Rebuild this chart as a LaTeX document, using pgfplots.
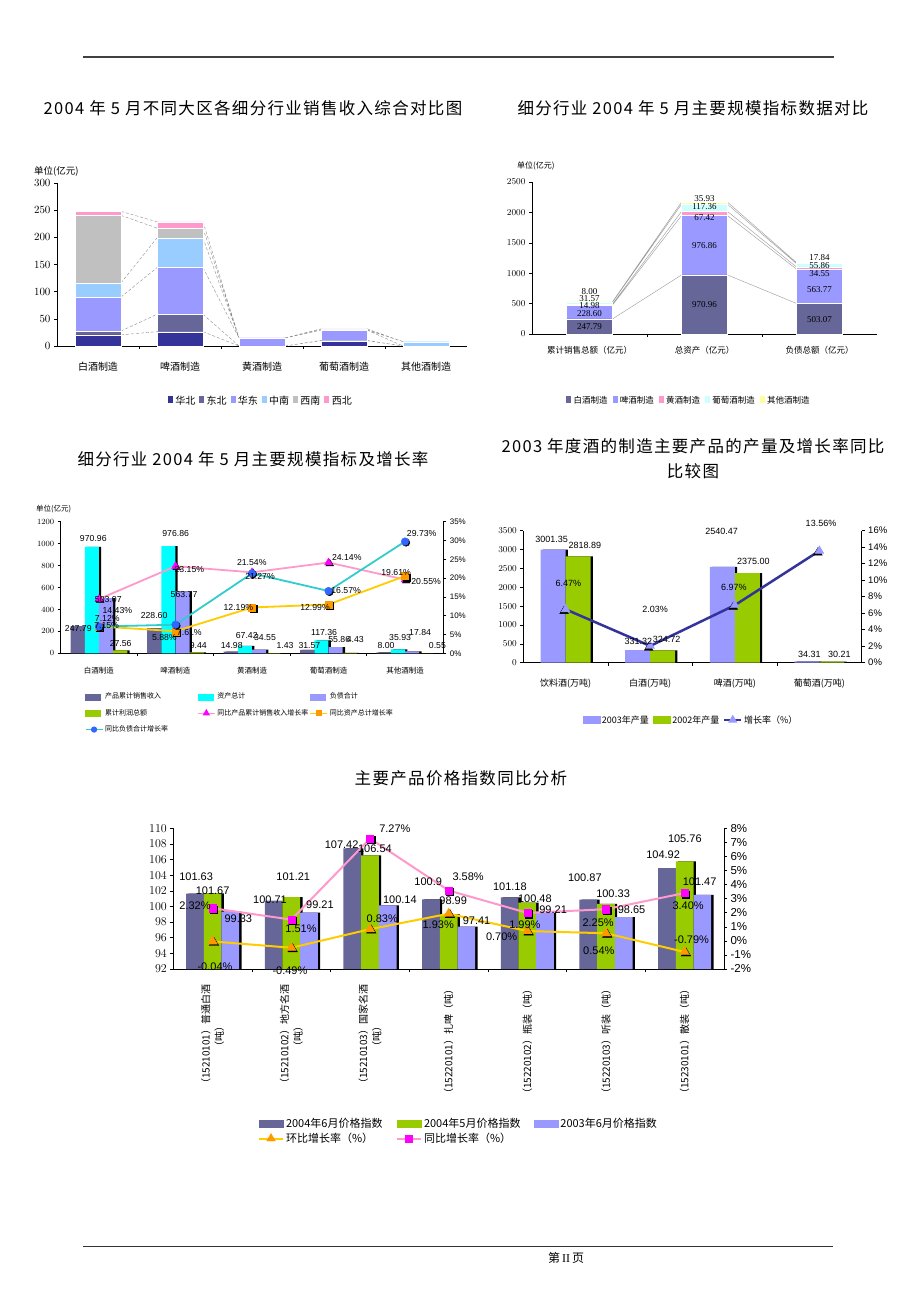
\documentclass[border=0pt]{standalone}
\usepackage{fontspec}
\usepackage{pgfplots}
\pgfplotsset{compat=1.18}
\setmainfont{Liberation Sans}
\newfontfamily\cjk{Noto Sans CJK SC}
\newfontfamily\cjkt[LetterSpace=8]{Noto Sans CJK SC}
\newfontfamily\ser{Liberation Serif}
\definecolor{cnavy}{HTML}{333399}
\definecolor{cslate}{HTML}{666699}
\definecolor{clav}{HTML}{9999FF}
\definecolor{csky}{HTML}{99CCFF}
\definecolor{cgray}{HTML}{C0C0C0}
\definecolor{cpink}{HTML}{FF99CC}
\definecolor{cpale}{HTML}{CCFFFF}
\definecolor{cyel}{HTML}{FFFF99}
\definecolor{ccyan}{HTML}{00FFFF}
\definecolor{cgreen}{HTML}{99CC00}
\definecolor{cmag}{HTML}{FF00FF}
\definecolor{cgold}{HTML}{FFCC00}
\definecolor{corange}{HTML}{FF9900}
\definecolor{cteal}{HTML}{33CCCC}
\definecolor{cblue}{HTML}{3366FF}
\pgfplotsset{
  base/.style={scale only axis, anchor=north west, /pgf/number format/1000 sep={},
    axis line style={black, line width=0.7pt}, tick style={black, line width=0.6pt},
    tick align=outside, major tick length=3pt},
  lab/.style={scale only axis, anchor=north west, hide axis, clip=false},
  sq/.style={legend image code/.code={\fill[##1,draw=none] (0pt,-3.5pt) rectangle (7pt,3.5pt);}},
  txt/.style={draw=none, nodes near coords, point meta=explicit symbolic,
    every node near coord/.append style={anchor=center, inner sep=0pt, font=#1}},
}
\begin{document}
\begin{tikzpicture}
\path[use as bounding box, fill=white] (0,0) rectangle (920pt,-1302pt);
% header / footer
\draw[line width=1.6pt, black!75] (83pt,-57pt) -- (834pt,-57pt);
\draw[line width=0.9pt, black!80] (83pt,-1246.5pt) -- (833pt,-1246.5pt);
\node[font=\cjk\fontsize{12}{12}\selectfont] at (566pt,-1258pt) {第\,{\ser II}\,页};
% titles
\node[font=\cjkt\fontsize{16.5}{18}\selectfont] at (253pt,-108pt) {2004 年 5 月不同大区各细分行业销售收入综合对比图};
\node[font=\cjkt\fontsize{16.5}{18}\selectfont] at (693pt,-108pt) {细分行业 2004 年 5 月主要规模指标数据对比};
\node[font=\cjkt\fontsize{16.5}{18}\selectfont] at (253pt,-459pt) {细分行业 2004 年 5 月主要规模指标及增长率};
\node[font=\cjkt\fontsize{16.5}{18}\selectfont] at (693pt,-446pt) {2003 年度酒的制造主要产品的产量及增长率同比};
\node[font=\cjkt\fontsize{16.5}{18}\selectfont] at (693pt,-471pt) {比较图};
\node[font=\cjkt\fontsize{16.5}{18}\selectfont] at (461pt,-778pt) {主要产品价格指数同比分析};
% unit labels
\node[anchor=west, inner sep=0pt, font=\cjk\fontsize{9.5}{10}\selectfont] at (34pt,-171pt) {单位(亿元)};
\node[anchor=west, inner sep=0pt, font=\cjk\fontsize{8}{9}\selectfont] at (517pt,-166pt) {单位(亿元)};
\node[anchor=west, inner sep=0pt, font=\cjk\fontsize{7.5}{8}\selectfont] at (36pt,-509pt) {单位(亿元)};

%================ CHART 1 =================
\begin{axis}[lab, clip=true, at={(57pt,-183pt)}, width=410pt, height=163pt,
  xmin=-0.5, xmax=4.5, ymin=0, ymax=300]
\addplot[black!45, densely dashed, line width=0.4pt, unbounded coords=jump] coordinates {
(0.28,20.5)(0.72,26.4)(0.5,nan)(0.28,27.5)(0.72,58.4)(0.5,nan)(0.28,90)(0.72,144.4)(0.5,nan)
(0.28,116)(0.72,198.9)(0.5,nan)(0.28,240.5)(0.72,217.1)(0.5,nan)(0.28,247.8)(0.72,228.6)(0.5,nan)
(1.28,26.4)(1.72,0)(1.5,nan)(1.28,58.4)(1.72,0)(1.5,nan)(1.28,144.4)(1.72,14.6)(1.5,nan)
(1.28,198.9)(1.72,14.8)(1.5,nan)(1.28,217.1)(1.72,14.8)(1.5,nan)(1.28,228.6)(1.72,14.98)(1.5,nan)
(2.28,0)(2.72,9.8)(2.5,nan)(2.28,0)(2.72,10.3)(2.5,nan)(2.28,14.6)(2.72,29.3)(2.5,nan)
(2.28,14.8)(2.72,29.6)(2.5,nan)(2.28,14.8)(2.72,29.6)(2.5,nan)(2.28,14.98)(2.72,31.57)(2.5,nan)
(3.28,9.8)(3.72,0)(3.5,nan)(3.28,10.3)(3.72,0)(3.5,nan)(3.28,29.3)(3.72,0)(3.5,nan)
(3.28,29.6)(3.72,8)(3.5,nan)(3.28,29.6)(3.72,8)(3.5,nan)(3.28,31.57)(3.72,8)
};
\end{axis}
\begin{axis}[base, sq, at={(57pt,-183pt)}, width=410pt, height=163pt,
  ybar stacked, bar width=0.557,
  xmin=-0.5, xmax=4.5, ymin=0, ymax=300,
  axis x line*=bottom, axis y line*=left,
  ytick={0,50,...,300},
  xtick={0.5,1.5,2.5,3.5}, xticklabels={},
  extra x ticks={0,1,2,3,4},
  extra x tick labels={白酒制造,啤酒制造,黄酒制造,葡萄酒制造,其他酒制造},
  extra x tick style={major tick length=0pt, xticklabel style={yshift=-13pt}},
  xticklabel style={font=\cjk\fontsize{10}{10}\selectfont},
  yticklabel style={font=\ser\fontsize{11}{11}\selectfont},
  legend columns=6,
  legend style={at={(axis description cs:0.496,-0.337)}, anchor=center, draw=none, fill=none,
    font=\cjk\fontsize{10}{10}\selectfont, /tikz/every even column/.append style={column sep=1pt}},
]
\addplot[fill=cnavy, draw=white, line width=0.3pt] coordinates {(0,20.5)(1,26.4)(2,0)(3,9.8)(4,0)};
\addplot[fill=cslate, draw=white, line width=0.3pt] coordinates {(0,7)(1,32)(2,0)(3,0.5)(4,0)};
\addplot[fill=clav, draw=white, line width=0.3pt] coordinates {(0,62.5)(1,86)(2,14.6)(3,19)(4,0)};
\addplot[fill=csky, draw=white, line width=0.3pt] coordinates {(0,26)(1,54.5)(2,0.2)(3,0.3)(4,8)};
\addplot[fill=cgray, draw=white, line width=0.3pt] coordinates {(0,124.5)(1,18.2)(2,0)(3,0)(4,0)};
\addplot[fill=cpink, draw=white, line width=0.3pt] coordinates {(0,7.3)(1,11.5)(2,0.18)(3,1.97)(4,0)};
\legend{华北,东北,华东,中南,西南,西北}
\end{axis}

%================ CHART 2 =================
\begin{axis}[lab, clip=true, at={(532pt,-182pt)}, width=345pt, height=152pt,
  xmin=-0.5, xmax=2.5, ymin=0, ymax=2500]
\addplot[black!40, line width=0.4pt, unbounded coords=jump] coordinates {
(0.2,247.79)(0.8,970.96)(0.5,nan)(0.2,476.39)(0.8,1947.82)(0.5,nan)(0.2,491.37)(0.8,2015.24)(0.5,nan)
(0.2,522.94)(0.8,2132.60)(0.5,nan)(0.2,530.94)(0.8,2168.53)(0.5,nan)
(1.2,970.96)(1.8,503.07)(1.5,nan)(1.2,1947.82)(1.8,1066.84)(1.5,nan)(1.2,2015.24)(1.8,1101.39)(1.5,nan)
(1.2,2132.60)(1.8,1157.25)(1.5,nan)(1.2,2168.53)(1.8,1175.09)
};
\end{axis}
\begin{axis}[base, sq, at={(532pt,-182pt)}, width=345pt, height=152pt,
  ybar stacked, bar width=0.4,
  xmin=-0.5, xmax=2.5, ymin=0, ymax=2500,
  axis x line*=bottom, axis y line*=left,
  ytick={0,500,...,2500},
  xtick={0.5,1.5}, xticklabels={},
  extra x ticks={0,1,2},
  extra x tick labels={累计销售总额（亿元）,总资产（亿元）,负债总额（亿元）},
  extra x tick style={major tick length=0pt, xticklabel style={yshift=-9pt}},
  xticklabel style={font=\cjk\fontsize{8.5}{9}\selectfont},
  yticklabel style={font=\ser\fontsize{9}{9}\selectfont},
  legend columns=5,
  legend style={at={(axis description cs:0.4536,-0.441)}, anchor=center, draw=none, fill=none,
    font=\cjk\fontsize{8.5}{9}\selectfont, /tikz/every even column/.append style={column sep=2pt}},
]
\addplot[fill=cslate, draw=white, line width=0.3pt] coordinates {(0,247.79)(1,970.96)(2,503.07)};
\addplot[fill=clav, draw=white, line width=0.3pt] coordinates {(0,228.60)(1,976.86)(2,563.77)};
\addplot[fill=cpink, draw=white, line width=0.3pt] coordinates {(0,14.98)(1,67.42)(2,34.55)};
\addplot[fill=cpale, draw=white, line width=0.3pt] coordinates {(0,31.57)(1,117.36)(2,55.86)};
\addplot[fill=cyel, draw=white, line width=0.3pt] coordinates {(0,8.00)(1,35.93)(2,17.84)};
\legend{白酒制造,啤酒制造,黄酒制造,葡萄酒制造,其他酒制造}
\end{axis}
\begin{axis}[lab, at={(532pt,-182pt)}, width=345pt, height=152pt,
  xmin=-0.5, xmax=2.5, ymin=0, ymax=2500]
\addplot[txt={\ser\fontsize{9}{9}\selectfont}] coordinates {
(0,125)[247.79] (0,340)[228.60] (0,465)[14.98] (0,585)[31.57] (0,705)[8.00]
(1,482)[970.96] (1,1457)[976.86] (1,1908)[67.42] (1,2089)[117.36] (1,2220)[35.93]
(2,235)[503.07] (2,729)[563.77] (2,992)[34.55] (2,1123)[55.86] (2,1250)[17.84]
};
\end{axis}

%================ CHART 3 =================
\begin{axis}[base, at={(60.7pt,-521.7pt)}, width=382.6pt, height=131.6pt,
  ybar, bar width=0.185,
  xmin=-0.5, xmax=4.5, ymin=0, ymax=1200,
  axis x line*=bottom, axis y line*=left,
  ytick={0,200,...,1200},
  xtick={0.5,1.5,2.5,3.5}, xticklabels={},
  extra x ticks={0,1,2,3,4},
  extra x tick labels={白酒制造,啤酒制造,黄酒制造,葡萄酒制造,其他酒制造},
  extra x tick style={major tick length=0pt, xticklabel style={yshift=-10pt}},
  xticklabel style={font=\cjk\fontsize{7.5}{8}\selectfont},
  yticklabel style={font=\fontsize{8}{8}\selectfont},
]
\addplot[fill=black, draw=none, bar shift=-0.248] coordinates {(0,247.79)(1,228.60)(2,14.98)(3,31.57)(4,8.00)};
\addplot[fill=cslate, draw=none, bar shift=-0.278] coordinates {(0,247.79)(1,228.60)(2,14.98)(3,31.57)(4,8.00)};
\addplot[fill=black, draw=none, bar shift=-0.063] coordinates {(0,970.96)(1,976.86)(2,67.42)(3,117.36)(4,35.93)};
\addplot[fill=ccyan, draw=none, bar shift=-0.093] coordinates {(0,970.96)(1,976.86)(2,67.42)(3,117.36)(4,35.93)};
\addplot[fill=black, draw=none, bar shift=0.123] coordinates {(0,503.07)(1,563.77)(2,34.55)(3,55.86)(4,17.84)};
\addplot[fill=clav, draw=none, bar shift=0.093] coordinates {(0,503.07)(1,563.77)(2,34.55)(3,55.86)(4,17.84)};
\addplot[fill=black, draw=none, bar shift=0.308] coordinates {(0,27.56)(1,9.44)(2,1.43)(3,4.43)(4,0.55)};
\addplot[fill=cgreen, draw=none, bar shift=0.278] coordinates {(0,27.56)(1,9.44)(2,1.43)(3,4.43)(4,0.55)};
\end{axis}
\begin{axis}[base, at={(60.7pt,-521.7pt)}, width=382.6pt, height=131.6pt,
  xmin=-0.5, xmax=4.5, ymin=0, ymax=35, clip=false,
  axis y line*=right, axis x line=none,
  ytick={0,5,...,35}, yticklabels={0\%,5\%,10\%,15\%,20\%,25\%,30\%,35\%},
  yticklabel style={font=\fontsize{8}{8}\selectfont},
  legend columns=3, legend cell align=left,
  legend style={at={(axis description cs:0.055,-0.27)}, anchor=north west, draw=none, fill=none,
    font=\cjk\fontsize{7}{8}\selectfont, nodes={text width=90pt}, row sep=5pt},
]
\addlegendimage{legend image code/.code={\fill[cslate] (0pt,-3pt) rectangle (15pt,3pt);}}
\addlegendentry{产品累计销售收入}
\addlegendimage{legend image code/.code={\fill[ccyan] (0pt,-3pt) rectangle (15pt,3pt);}}
\addlegendentry{资产总计}
\addlegendimage{legend image code/.code={\fill[clav] (0pt,-3pt) rectangle (15pt,3pt);}}
\addlegendentry{负债合计}
\addlegendimage{legend image code/.code={\fill[cgreen] (0pt,-3pt) rectangle (15pt,3pt);}}
\addlegendentry{累计利润总额}
\addlegendimage{cpink, line width=1.2pt, mark=triangle*, mark size=3pt, mark options={fill=cmag, draw=cmag}}
\addlegendentry{同比产品累计销售收入增长率}
\addlegendimage{cgold, line width=1.2pt, mark=square*, mark size=2.5pt, mark options={fill=corange, draw=corange}}
\addlegendentry{同比资产总计增长率}
\addlegendimage{cteal, line width=1.2pt, mark=*, mark size=2.5pt, mark options={fill=cblue, draw=cblue}}
\addlegendentry{同比负债合计增长率}
% pink: sales growth
\addplot[cpink, line width=1.8pt, forget plot] coordinates {(0,14.43)(1,23.15)(2,21.54)(3,24.14)(4,19.61)};
\addplot[only marks, mark=triangle*, mark size=4.5pt, mark options={fill=black, draw=black, xshift=1.2pt, yshift=-1.2pt}, forget plot] coordinates {(0,14.43)(1,23.15)(2,21.54)(3,24.14)(4,19.61)};
\addplot[only marks, mark=triangle*, mark size=4.5pt, mark options={fill=cmag, draw=cmag}, forget plot] coordinates {(0,14.43)(1,23.15)(2,21.54)(3,24.14)(4,19.61)};
% gold: asset growth
\addplot[cgold, line width=1.8pt, forget plot] coordinates {(0,7.15)(1,5.88)(2,12.19)(3,12.99)(4,20.55)};
\addplot[only marks, mark=square*, mark size=3.5pt, mark options={fill=black, draw=black, xshift=1.2pt, yshift=-1.2pt}, forget plot] coordinates {(0,7.15)(1,5.88)(2,12.19)(3,12.99)(4,20.55)};
\addplot[only marks, mark=square*, mark size=3.5pt, mark options={fill=corange, draw=corange}, forget plot] coordinates {(0,7.15)(1,5.88)(2,12.19)(3,12.99)(4,20.55)};
% teal: liabilities growth
\addplot[cteal, line width=1.8pt, forget plot] coordinates {(0,7.12)(1,7.61)(2,21.27)(3,16.57)(4,29.73)};
\addplot[only marks, mark=*, mark size=3.8pt, mark options={fill=black, draw=black, xshift=1.0pt, yshift=-1.0pt}, forget plot] coordinates {(0,7.12)(1,7.61)(2,21.27)(3,16.57)(4,29.73)};
\addplot[only marks, mark=*, mark size=3.8pt, mark options={fill=cblue, draw=cblue}, forget plot] coordinates {(0,7.12)(1,7.61)(2,21.27)(3,16.57)(4,29.73)};
\end{axis}
\begin{axis}[lab, at={(60.7pt,-521.7pt)}, width=382.6pt, height=131.6pt,
  xmin=-0.5, xmax=4.5, ymin=0, ymax=1200]
\addplot[txt={\fontsize{8.7}{9}\selectfont}] coordinates {
(-0.27,228)[247.79] (-0.074,1049)[970.96] (0.122,492)[503.07] (0.284,91)[27.56]
(0.72,343)[228.60] (1.003,1094)[976.86] (1.112,532)[563.77] (1.299,69)[9.44]
(1.735,69)[14.98] (1.931,158)[67.42] (2.17,146)[34.55] (2.432,69)[1.43]
(2.75,69)[31.57] (2.942,188)[117.36] (3.14,128)[55.86] (3.35,128)[4.43]
(3.752,69)[8.00] (3.935,146)[35.93] (4.197,188)[17.84] (4.423,69)[0.55]
(0.24,389)[14.43\%] (0.109,313)[7.12\%] (0.1,249)[7.15\%]
(1.181,766)[23.15\%] (0.855,146)[5.88\%] (1.181,188)[7.61\%]
(1.997,830)[21.54\%] (2.105,705)[21.27\%] (1.822,420)[12.19\%]
(3.239,875)[24.14\%] (3.23,577)[16.57\%] (2.824,420)[12.99\%]
(4.218,1094)[29.73\%] (3.883,735)[19.61\%] (4.275,653)[20.55\%]
};
\end{axis}

%================ CHART 4 =================
\begin{axis}[base, at={(523.3pt,-530.7pt)}, width=338.4pt, height=132pt,
  ybar, bar width=0.295,
  xmin=-0.5, xmax=3.5, ymin=0, ymax=3500,
  axis x line*=bottom, axis y line*=left,
  ytick={0,500,...,3500},
  xtick={0.5,1.5,2.5}, xticklabels={},
  extra x ticks={0,1,2,3},
  extra x tick labels={饮料酒(万吨),白酒(万吨),啤酒(万吨),葡萄酒(万吨)},
  extra x tick style={major tick length=0pt, xticklabel style={yshift=-13pt}},
  xticklabel style={font=\cjk\fontsize{9}{9}\selectfont},
  yticklabel style={font=\fontsize{9.5}{9.5}\selectfont},
]
\addplot[fill=black, draw=none, bar shift=-0.121] coordinates {(0,3001.35)(1,331.32)(2,2540.47)(3,34.31)};
\addplot[fill=clav, draw=none, bar shift=-0.148] coordinates {(0,3001.35)(1,331.32)(2,2540.47)(3,34.31)};
\addplot[fill=black, draw=none, bar shift=0.175] coordinates {(0,2818.89)(1,324.72)(2,2375.00)(3,30.21)};
\addplot[fill=cgreen, draw=none, bar shift=0.148] coordinates {(0,2818.89)(1,324.72)(2,2375.00)(3,30.21)};
\end{axis}
\begin{axis}[base, at={(523.3pt,-530.7pt)}, width=338.4pt, height=132pt,
  xmin=-0.5, xmax=3.5, ymin=0, ymax=16, clip=false,
  axis y line*=right, axis x line=none,
  ytick={0,2,...,16}, yticklabels={0\%,2\%,4\%,6\%,8\%,10\%,12\%,14\%,16\%},
  yticklabel style={font=\fontsize{9.5}{9.5}\selectfont},
  legend columns=3,
  legend style={at={(axis description cs:0.4956,-0.434)}, anchor=center, draw=none, fill=none,
    font=\cjk\fontsize{9}{9}\selectfont, /tikz/every even column/.append style={column sep=2pt}},
]
\addlegendimage{legend image code/.code={\fill[clav] (0pt,-3.5pt) rectangle (17pt,3.5pt);}}
\addlegendentry{2003年产量}
\addlegendimage{legend image code/.code={\fill[cgreen] (0pt,-3.5pt) rectangle (17pt,3.5pt);}}
\addlegendentry{2002年产量}
\addlegendimage{cnavy, line width=1.8pt, mark=triangle*, mark size=3.5pt, mark options={fill=clav, draw=clav}}
\addlegendentry{增长率（\%）}
\addplot[cnavy, line width=2.5pt, forget plot] coordinates {(0,6.47)(1,2.03)(2,6.97)(3,13.56)};
\addplot[only marks, mark=triangle*, mark size=5pt, mark options={fill=black, draw=black, xshift=-1.5pt, yshift=-1.8pt}, forget plot] coordinates {(0,6.47)(1,2.03)(2,6.97)(3,13.56)};
\addplot[only marks, mark=triangle*, mark size=5pt, mark options={fill=clav, draw=clav}, forget plot] coordinates {(0,6.47)(1,2.03)(2,6.97)(3,13.56)};
\end{axis}
\begin{axis}[lab, at={(523.3pt,-530.7pt)}, width=338.4pt, height=132pt,
  xmin=-0.5, xmax=3.5, ymin=0, ymax=3500]
\addplot[txt={\fontsize{9}{9}\selectfont}] coordinates {
(-0.164,3272)[3001.35] (0.229,3121)[2818.89] (0.032,2105)[6.47\%]
(1.057,1416)[2.03\%] (0.859,557)[331.32] (1.195,620)[324.72]
(1.845,3473)[2540.47] (2.219,2697)[2375.00] (1.99,1999)[6.97\%]
(3.019,3696)[13.56\%] (2.881,231)[34.31] (3.235,231)[30.21]
};
\end{axis}

%================ CHART 5 =================
\begin{axis}[base, at={(173.3pt,-828.3pt)}, width=550.7pt, height=140.7pt,
  ybar, bar width=0.225,
  xmin=-0.5, xmax=6.5, ymin=92, ymax=110,
  axis x line*=bottom, axis y line*=left,
  ytick={92,94,...,110},
  xtick={0.5,1.5,2.5,3.5,4.5,5.5}, xticklabels={},
  extra x ticks={0,1,2,3,4,5,6},
  extra x tick labels={{（15210101）普通白酒\\（吨）},{（15210102）地方名酒\\（吨）},{（15210103）国家名酒\\（吨）},{（15220101）扎啤（吨）},{（15220102）瓶装（吨）},{（15220103）听装（吨）},{（15230101）散装（吨）}},
  extra x tick style={major tick length=0pt, xticklabel style={font=\cjk\fontsize{10}{13.5}\selectfont, align=center, yshift=-12pt, rotate=90, anchor=east}},
  yticklabel style={font=\fontsize{11.5}{11.5}\selectfont},
]
\addplot[fill=black, draw=none, bar shift=-0.195] coordinates {(0,101.63)(1,100.71)(2,107.42)(3,100.9)(4,101.18)(5,100.87)(6,104.92)};
\addplot[fill=cslate, draw=none, bar shift=-0.225] coordinates {(0,101.63)(1,100.71)(2,107.42)(3,100.9)(4,101.18)(5,100.87)(6,104.92)};
\addplot[fill=black, draw=none, bar shift=0.03] coordinates {(0,101.67)(1,101.21)(2,106.54)(3,98.99)(4,100.48)(5,100.33)(6,105.76)};
\addplot[fill=cgreen, draw=none, bar shift=0] coordinates {(0,101.67)(1,101.21)(2,106.54)(3,98.99)(4,100.48)(5,100.33)(6,105.76)};
\addplot[fill=black, draw=none, bar shift=0.255] coordinates {(0,99.33)(1,99.21)(2,100.14)(3,97.41)(4,99.21)(5,98.65)(6,101.47)};
\addplot[fill=clav, draw=none, bar shift=0.225] coordinates {(0,99.33)(1,99.21)(2,100.14)(3,97.41)(4,99.21)(5,98.65)(6,101.47)};
\end{axis}
\begin{axis}[base, at={(173.3pt,-828.3pt)}, width=550.7pt, height=140.7pt,
  xmin=-0.5, xmax=6.5, ymin=-2, ymax=8, clip=false,
  axis y line*=right, axis x line=none,
  ytick={-2,-1,...,8}, yticklabels={-2\%,-1\%,0\%,1\%,2\%,3\%,4\%,5\%,6\%,7\%,8\%},
  yticklabel style={font=\fontsize{11.5}{11.5}\selectfont},
  legend columns=3, legend cell align=left,
  legend style={at={(axis description cs:0.148,-1.031)}, anchor=north west, draw=none, fill=none,
    font=\cjk\fontsize{11}{11}\selectfont, nodes={text width=108pt}, row sep=0pt},
]
\addlegendimage{legend image code/.code={\fill[cslate] (0pt,-3.5pt) rectangle (24pt,3.5pt);}}
\addlegendentry{2004年6月价格指数}
\addlegendimage{legend image code/.code={\fill[cgreen] (0pt,-3.5pt) rectangle (24pt,3.5pt);}}
\addlegendentry{2004年5月价格指数}
\addlegendimage{legend image code/.code={\fill[clav] (0pt,-3.5pt) rectangle (24pt,3.5pt);}}
\addlegendentry{2003年6月价格指数}
\addlegendimage{legend image code/.code={\draw[cgold, line width=2pt] (0pt,0pt) -- (24pt,0pt); \fill[corange] (12pt,0pt) +(90:5pt) -- +(210:5pt) -- +(330:5pt) -- cycle;}}
\addlegendentry{环比增长率（\%）}
\addlegendimage{legend image code/.code={\draw[cpink, line width=2pt] (0pt,0pt) -- (24pt,0pt); \fill[cmag] (8.5pt,-3.5pt) rectangle (15.5pt,3.5pt);}}
\addlegendentry{同比增长率（\%）}
% gold: ring growth
\addplot[cgold, line width=2pt, forget plot] coordinates {(0,-0.04)(1,-0.49)(2,0.83)(3,1.93)(4,0.70)(5,0.54)(6,-0.79)};
\addplot[only marks, mark=triangle*, mark size=5.5pt, mark options={fill=black, draw=black, xshift=1.3pt, yshift=-1.3pt}, forget plot] coordinates {(0,-0.04)(1,-0.49)(2,0.83)(3,1.93)(4,0.70)(5,0.54)(6,-0.79)};
\addplot[only marks, mark=triangle*, mark size=5.5pt, mark options={fill=corange, draw=corange}, forget plot] coordinates {(0,-0.04)(1,-0.49)(2,0.83)(3,1.93)(4,0.70)(5,0.54)(6,-0.79)};
% pink: yoy
\addplot[cpink, line width=2pt, forget plot] coordinates {(0,2.32)(1,1.51)(2,7.27)(3,3.58)(4,1.99)(5,2.25)(6,3.40)};
\addplot[only marks, mark=square*, mark size=3.6pt, mark options={fill=black, draw=black, xshift=1.3pt, yshift=-1.3pt}, forget plot] coordinates {(0,2.32)(1,1.51)(2,7.27)(3,3.58)(4,1.99)(5,2.25)(6,3.40)};
\addplot[only marks, mark=square*, mark size=3.6pt, mark options={fill=cmag, draw=cmag}, forget plot] coordinates {(0,2.32)(1,1.51)(2,7.27)(3,3.58)(4,1.99)(5,2.25)(6,3.40)};
\end{axis}
\begin{axis}[lab, at={(173.3pt,-828.3pt)}, width=550.7pt, height=140.7pt,
  xmin=-0.5, xmax=6.5, ymin=92, ymax=110]
\addplot[txt={\fontsize{11}{11}\selectfont}] coordinates {
(-0.21,103.81)[101.63] (0.0,101.98)[101.67] (0.326,98.49)[99.33] (-0.224,100.1)[2.32\%] (0.03,92.3)[-0.04\%]
(0.729,100.83)[100.71] (1.025,103.81)[101.21] (1.364,100.28)[99.21] (1.123,97.12)[1.51\%] (0.983,91.75)[-0.49\%]
(1.64,107.86)[107.42] (2.063,107.35)[106.54] (2.38,100.92)[100.14] (2.317,110)[7.27\%] (2.156,98.4)[0.83\%]
(2.74,103.17)[100.9] (3.058,100.7)[98.99] (3.355,98.14)[97.41] (3.248,103.81)[3.58\%] (2.867,97.72)[1.93\%]
(3.778,102.53)[101.18] (4.096,101.05)[100.48] (4.328,99.64)[99.21] (3.969,97.72)[1.99\%] (3.673,96.14)[0.70\%]
(4.731,103.68)[100.87] (5.09,101.6)[100.33] (5.325,99.64)[98.65] (4.9,97.93)[2.25\%] (4.909,94.35)[0.54\%]
(5.726,106.67)[104.92] (6.002,108.72)[105.76] (6.19,103.17)[101.47] (6.044,100.1)[3.40\%] (6.087,95.8)[-0.79\%]
};
\end{axis}
\end{tikzpicture}
\end{document}
